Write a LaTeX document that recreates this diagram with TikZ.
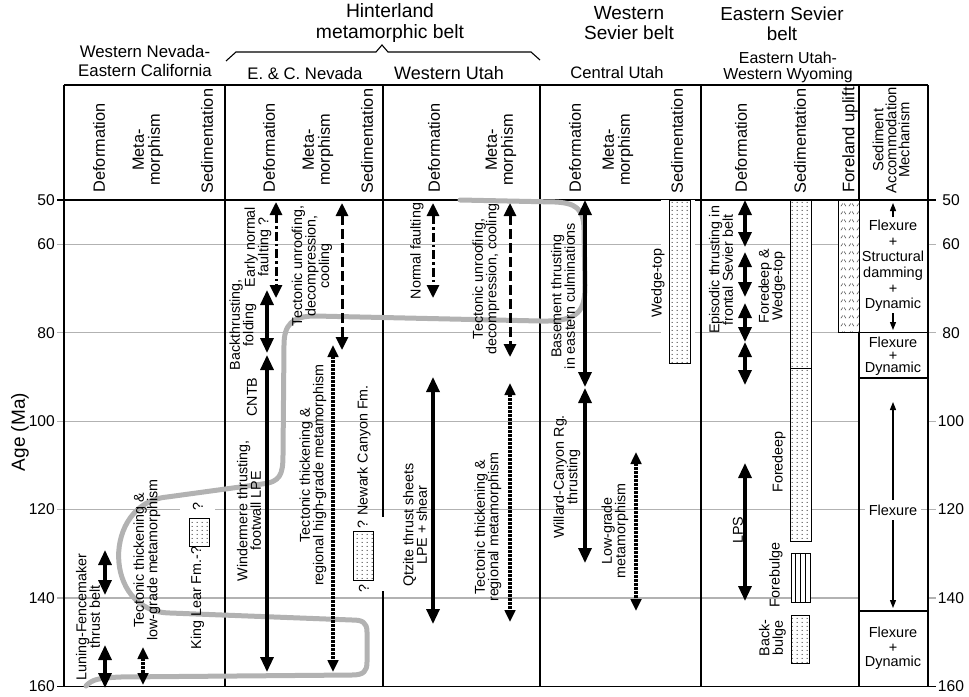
\documentclass[tikz,border=0pt]{standalone}
\usepackage{fontspec}
\setmainfont{Liberation Sans}
\usetikzlibrary{arrows.meta,patterns}
\pgfdeclarepatternformonly{sdots}{\pgfqpoint{0pt}{0pt}}{\pgfqpoint{5pt}{4pt}}{\pgfqpoint{5pt}{4pt}}{%
  \pgfpathcircle{\pgfqpoint{2.5pt}{2pt}}{0.7pt}\pgfusepath{fill}}
\pgfdeclarepatternformonly{checks}{\pgfqpoint{0pt}{0pt}}{\pgfqpoint{8pt}{8pt}}{\pgfqpoint{8pt}{8pt}}{%
  \pgfsetlinewidth{0.6pt}%
  \pgfpathmoveto{\pgfqpoint{1pt}{2pt}}\pgfpathlineto{\pgfqpoint{3pt}{5pt}}%
  \pgfpathmoveto{\pgfqpoint{4.5pt}{5pt}}\pgfpathlineto{\pgfqpoint{6.5pt}{2pt}}%
  \pgfusepath{stroke}}
\newcommand{\fsz}[2]{\fontsize{#1}{#2}\selectfont}
\begin{document}
\begin{tikzpicture}[x=1pt,y=-1pt,
  bigtri/.tip={Triangle[width=13pt,length=15pt]},
  midtri/.tip={Triangle[width=12pt,length=13pt]},
  smltri/.tip={Triangle[width=10.5pt,length=12pt]},
  thintri/.tip={Triangle[width=6pt,length=8pt]},
  gridl/.style={draw=black!30,line width=1.3pt},
  frame/.style={line width=1.3pt},
  thk/.style={line width=3.2pt,bigtri-bigtri},
  dsh/.style={line width=3pt,dash pattern=on 10pt off 4pt,midtri-midtri},
  dshdot/.style={line width=3pt,dash pattern=on 9pt off 3pt on 2.5pt off 3pt,midtri-midtri},
  dott/.style={line width=3.2pt,dash pattern=on 2.4pt off 1.6pt,smltri-smltri},
  thinar/.style={line width=1.2pt,-thintri},
  migr/.style={draw=black!30,line width=5pt,line cap=round,line join=round},
  sbox/.style={line width=1pt,preaction={fill=white},pattern=sdots,pattern color=black!80},
  lbl/.style={rotate=90,align=center,inner sep=0pt,font=\fsz{14.3}{13.5}},
  hdr/.style={rotate=90,align=center,inner sep=0pt,font=\fsz{16.3}{16}},
  acc/.style={align=center,inner sep=0pt,font=\fsz{14.5}{15.6}},
  top/.style={align=center,inner sep=0pt},
  age/.style={inner sep=0pt,font=\fsz{15.6}{16}}
]
\useasboundingbox (0,0) rectangle (969,696);

% ---------- grid lines ----------
\foreach \yy in {244.2,332.7,421.2,598.1}{
  \draw[gridl] (57,\yy) -- (859,\yy);
  \draw[gridl] (928,\yy) -- (936,\yy);
}
\draw[gridl] (57,509.6) -- (936,509.6);

% ---------- frame ----------
\draw[frame] (64,85) -- (928,85);
\draw[frame] (57,200) -- (936,200);
\draw[frame] (57,686.5) -- (936,686.5);
\foreach \xx in {64,225,383,540,701,859,928}
  \draw[frame] (\xx,85) -- (\xx,686.5);
\draw[frame] (838,332.7) -- (928,332.7);
\draw[frame] (859,378) -- (928,378);
\draw[frame] (859,611) -- (928,611);

% ---------- white paddings ----------
\fill[white] (661,199.5) rectangle (695,366);
\fill[white] (180,499) rectangle (215,551);
\fill[white] (346,517) rectangle (392,591);

% ---------- sedimentation boxes ----------
\draw[sbox] (189,518) rectangle (209,546);
\draw[sbox] (353,531) rectangle (373,580);
\draw[sbox] (669,200) rectangle (690,363);
\draw[sbox] (790,200) rectangle (811,368);
\draw[sbox] (790,368) rectangle (811,541);
\draw[line width=1pt,fill=white] (791,553) rectangle (810,602);
\foreach \xx in {795.5,800.5,805.5}
  \draw[line width=0.9pt] (\xx,553) -- (\xx,602);
\draw[sbox] (791,615) rectangle (809,663);
\draw[line width=1pt,preaction={fill=white},pattern=checks,pattern color=black!70] (838,200) rectangle (859,332.7);

% ---------- migration path ----------
\draw[migr] (86,686) .. controls (92,679) and (100,678) .. (120,677) -- (352,675)
  .. controls (364,675) and (367,671) .. (367,662) -- (367,632)
  .. controls (367,622) and (362,620) .. (352,620) -- (170,613)
  .. controls (102,612) and (102,503) .. (167,497) -- (262,484)
  .. controls (280,482) and (283,475) .. (283,455) -- (284,345)
  .. controls (284,325) and (292,316) .. (315,316) -- (540,321)
  .. controls (580,322) and (585,310) .. (585,285) -- (584,230)
  .. controls (584,208) and (575,203) .. (555,202) -- (460,200);

% ---------- arrows ----------
\draw[thk] (105,550) -- (105,595);
\draw[thk] (105,645) -- (105,688);
\draw[dott] (143,647) -- (143,685);
\draw[dshdot] (276,202) -- (276,298);
\draw[thk] (267,290) -- (267,353);
\draw[thk] (267,355) -- (267,672);
\draw[dsh] (342,203) -- (342,350);
\draw[dott] (333,345) -- (333,672);
\draw[dshdot] (433,203) -- (433,298);
\draw[thk] (433,377) -- (433,624);
\draw[dsh] (510,203) -- (510,357);
\draw[dott] (510,383) -- (510,622);
\draw[thk] (585,200) -- (585,387);
\draw[thk] (585,388) -- (585,563);
\draw[dott] (636,452) -- (636,611);
\draw[thk] (745,200) -- (745,247);
\draw[thk] (745,252) -- (745,297);
\draw[thk] (745,303) -- (745,342);
\draw[thk] (745,342) -- (745,385);
\draw[thk] (745,463) -- (745,601);
\draw[thinar] (893,217) -- (893,203);
\draw[thinar] (893,313) -- (893,330);
\draw[thinar] (893,500) -- (893,402);
\draw[thinar] (893,520) -- (893,608);

% ---------- top headers ----------
\draw[line width=1.1pt] (226,61) -- (236,52) -- (376,52) -- (382,45) -- (388,52) -- (531,52) -- (540,60);
\node[top,font=\fsz{16.8}{19.5}] (hWN) at (145,61) {Western Nevada-\\Eastern California};
\node[top,font=\fsz{19.3}{20.5}] (hHM) at (390,23) {Hinterland\\metamorphic belt};
\node[top,anchor=base,font=\fsz{16.7}{17}] (hEC) at (305,79.5) {E. \& C. Nevada};
\node[top,anchor=base,font=\fsz{18}{18}] (hWU) at (449,79.5) {Western Utah};
\node[top,font=\fsz{19}{20.5}] (hWS) at (629,23) {Western\\Sevier belt};
\node[top,anchor=base,font=\fsz{16.6}{17}] (hCU) at (617,78.5) {Central Utah};
\node[top,font=\fsz{18.8}{20.5}] (hES) at (782,24) {Eastern Sevier\\belt};
\node[top,font=\fsz{15.9}{15.5}] (hEU) at (788,67.5) {Eastern Utah-\\Western Wyoming};

% ---------- column headers ----------
\node[hdr] (d1) at (99,148) {Deformation};
\node[hdr] (m1) at (148,150) {Meta-\\morphism};
\node[hdr] (s1) at (207,141) {Sedimentation};
\node[hdr] (d2) at (269,148) {Deformation};
\node[hdr] (m2) at (318,150) {Meta-\\morphism};
\node[hdr] (s2) at (367,141) {Sedimentation};
\node[hdr] (d3) at (434,148) {Deformation};
\node[hdr] (m3) at (501,150) {Meta-\\morphism};
\node[hdr] (d4) at (575,148) {Deformation};
\node[hdr] (m4) at (618,150) {Meta-\\morphism};
\node[hdr] (s4) at (677,141) {Sedimentation};
\node[hdr] (d5) at (741,148) {Deformation};
\node[hdr] (s5) at (800,141) {Sedimentation};
\node[hdr,font=\fsz{16.7}{16}] (fu) at (850,140) {Foreland uplift};
\node[hdr,font=\fsz{14.8}{13}] (sam) at (891,140) {Sediment\\Accommodation\\Mechanism};

% ---------- age labels ----------
\foreach \a/\yy in {50/200,60/244.2,80/332.7,100/421.2,120/509.6,140/598.1,160/686.5}{
  \node[age,anchor=east] (AL\a) at (55,\yy) {\a};
  \node[age] (AR\a) at (951,\yy) {\a};
}
\node[rotate=90,inner sep=0pt,font=\fsz{19}{19}] (agetitle) at (20,432) {Age (Ma)};

% ---------- labels ----------
\node[lbl] (t1) at (88,617) {Luning-Fencemaker\\thrust belt};
\node[lbl] (t2) at (147,560) {Tectonic thickening \&\\low-grade metamorphism};
\node[lbl] (t3) at (197.5,598) {King Lear Fm.-?};
\node[lbl] (t4) at (198,507) {?};
\node[lbl] (t5) at (258,247) {Early normal\\faulting ?};
\node[lbl] (t6) at (243,325) {Backthrusting,\\folding};
\node[lbl] (t7) at (252,397) {CNTB};
\node[lbl] (t8) at (249,511) {Windermere thrusting,\\footwall LPE};
\node[lbl] (t9) at (312,266) {Tectonic unroofing,\\decompression,\\cooling};
\node[lbl] (t10) at (313,475) {Tectonic thickening \&\\regional high-grade metamorphism};
\node[lbl] (t11) at (364,457) {? Newark Canyon Fm.};
\node[lbl] (t12) at (364,589) {?};
\node[lbl] (t13) at (417,251) {Normal faulting};
\node[lbl] (t14) at (415,525) {Qtzite thrust sheets\\LPE + shear};
\node[lbl] (t15) at (486,279) {Tectonic unroofing,\\decompression, cooling};
\node[lbl] (t16) at (488,527) {Tectonic thickening \&\\regional metamorphism};
\node[lbl] (t17) at (563,296) {Basement thrusting\\in eastern culminations};
\node[lbl] (t18) at (567,477) {Willard-Canyon Rg.\\thrusting};
\node[lbl] (t19) at (615,531) {Low-grade\\metamorphism};
\node[lbl] (t20) at (658,283) {Wedge-top};
\node[lbl] (t21) at (721,270) {Episodic thrusting in\\frontal Sevier belt};
\node[lbl] (t22) at (738,530) {LPS};
\node[lbl] (t23) at (772,286) {Foredeep \&\\Wedge-top};
\node[lbl] (t24) at (779,462) {Foredeep};
\node[lbl] (t25) at (776,575) {Forebulge};
\node[lbl] (t26) at (772.5,638) {Back-\\bulge};

% ---------- accommodation ----------
\node[acc] (a1) at (893,266) {Flexure\\+\\Structural\\damming\\+\\Dynamic};
\node[acc,font=\fsz{14.5}{12.5}] (a2) at (893,356.5) {Flexure\\+\\Dynamic};
\node[acc,fill=white,inner xsep=4pt,inner ysep=2pt] (a3) at (893,510) {Flexure};
\node[acc,font=\fsz{14.5}{14.5}] (a4) at (893,648.5) {Flexure\\+\\Dynamic};
\end{tikzpicture}
\end{document}
